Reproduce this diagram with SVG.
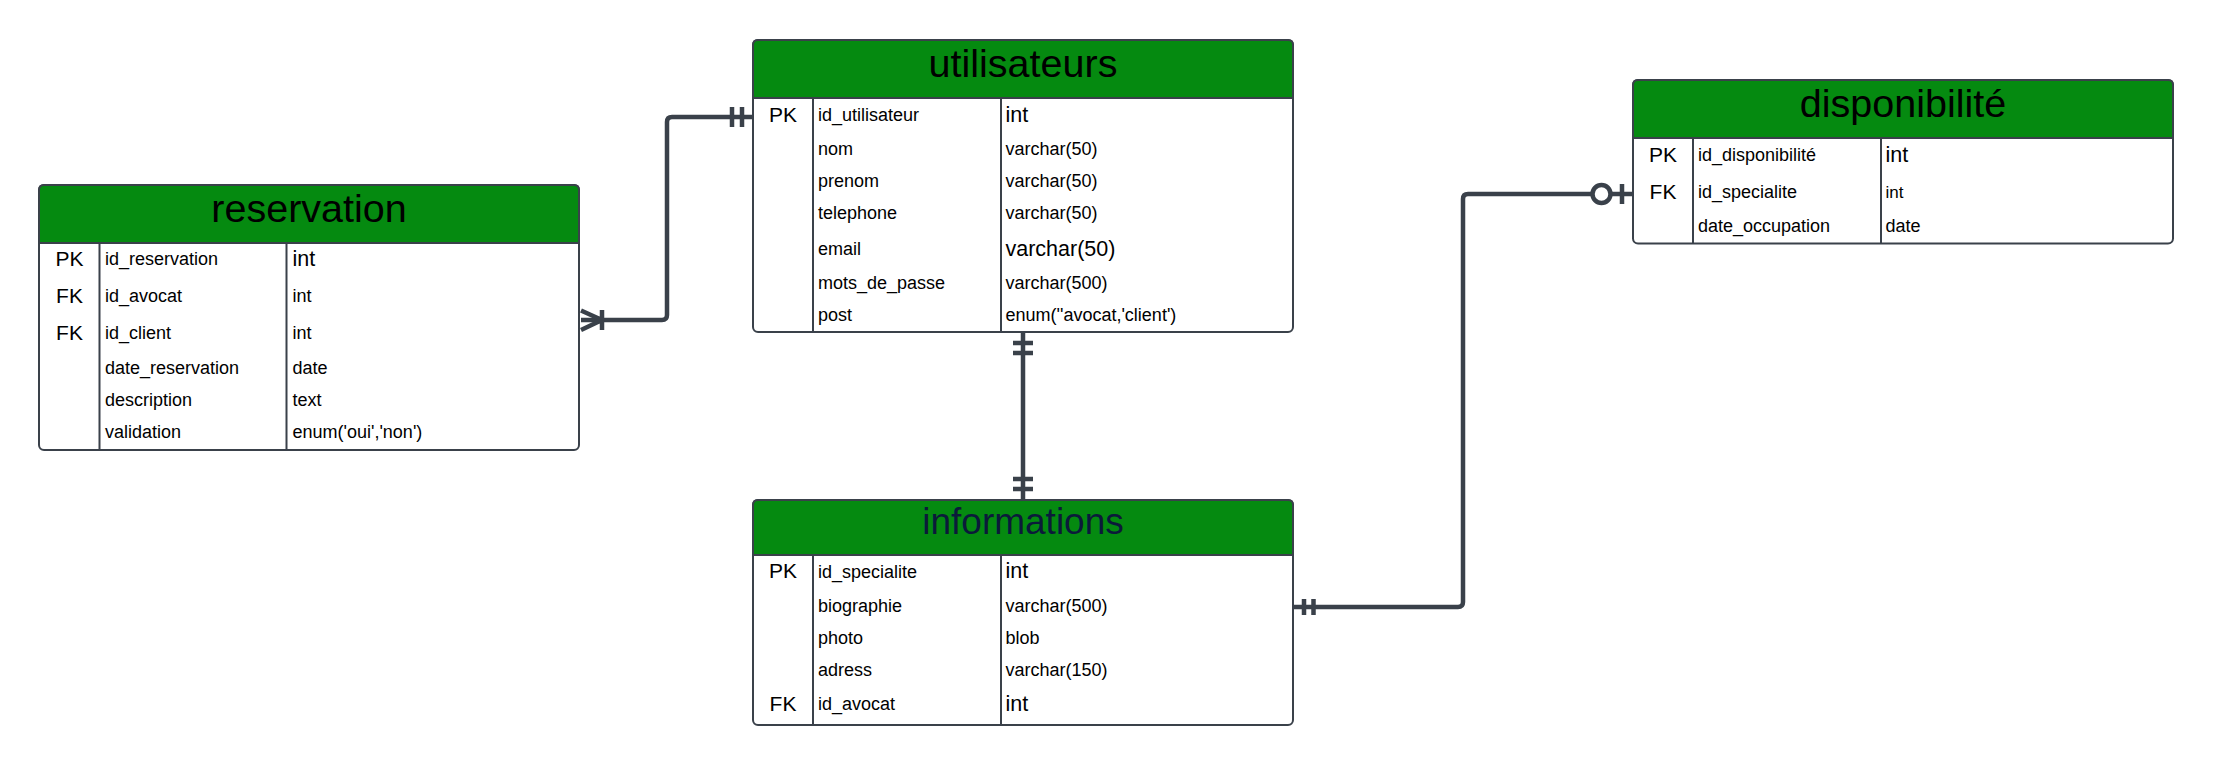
<svg xmlns="http://www.w3.org/2000/svg" width="2213" height="765" viewBox="0 0 2213 765">
<style>
.box{fill:#ffffff;stroke:#3a414a;stroke-width:2}
.hdr{fill:#058a10;stroke:#3a414a;stroke-width:2}
.ln{stroke:#3a414a;stroke-width:2;fill:none}
.title{font-family:"Liberation Sans",Arial,sans-serif;font-size:39.5px;fill:#000;text-anchor:middle}
.key{font-family:"Liberation Sans",Arial,sans-serif;font-size:21px;fill:#000;text-anchor:middle}
.f{font-family:"Liberation Sans",Arial,sans-serif;font-size:18px;fill:#000}
.big{font-family:"Liberation Sans",Arial,sans-serif;font-size:21.5px;fill:#000}
.c{stroke:#3a414a;stroke-width:4.5;fill:none;stroke-linecap:butt;stroke-linejoin:round}
</style>
<rect width="2213" height="765" fill="#ffffff"/>
<g id="connectors">
<path class="c" d="M 581 320 H 662 Q 667 320 667 315 V 122 Q 667 117 672 117 H 753"/>
<path class="c" d="M 581 310.5 L 602 320 L 581 330 M 602 310 V 330"/>
<path class="c" d="M 732 107 V 127 M 742 107 V 127"/>
<path class="c" d="M 1023 332 V 500"/>
<path class="c" d="M 1013 343 H 1033 M 1013 353 H 1033 M 1013 479 H 1033 M 1013 489 H 1033"/>
<path class="c" d="M 1293 607 H 1458 Q 1463 607 1463 602 V 199 Q 1463 194 1468 194 H 1633"/>
<path class="c" d="M 1304 599 V 615 M 1313.5 599 V 615 M 1622 184 V 204"/>
<circle cx="1601.5" cy="194" r="9" fill="#ffffff" stroke="#3a414a" stroke-width="4.5"/>
</g>
<g id="reservation">
<rect class="box" x="39" y="185" width="540" height="265" rx="5"/>
<path class="hdr" d="M 39 243 V 190 Q 39 185 44 185 H 574 Q 579 185 579 190 V 243 Z"/>
<path class="ln" d="M 99.5 243 V 450 M 286.5 243 V 450"/>
<text class="title" x="309" y="222">reservation</text>
<text class="key" x="69.5" y="265.5">PK</text>
<text class="f" x="105" y="265">id_reservation</text>
<text class="big" x="292.5" y="265.5">int</text>
<text class="key" x="69.5" y="303">FK</text>
<text class="f" x="105" y="302">id_avocat</text>
<text class="f" x="292.5" y="302">int</text>
<text class="key" x="69.5" y="340">FK</text>
<text class="f" x="105" y="339">id_client</text>
<text class="f" x="292.5" y="339">int</text>
<text class="f" x="105" y="373.5">date_reservation</text>
<text class="f" x="292.5" y="373.5">date</text>
<text class="f" x="105" y="405.5">description</text>
<text class="f" x="292.5" y="405.5">text</text>
<text class="f" x="105" y="437.5">validation</text>
<text class="f" x="292.5" y="437.5">enum('oui','non')</text>
</g>
<g id="utilisateurs">
<rect class="box" x="753" y="40" width="540" height="292" rx="5"/>
<path class="hdr" d="M 753 98 V 45 Q 753 40 758 40 H 1288 Q 1293 40 1293 45 V 98 Z"/>
<path class="ln" d="M 813 98 V 332 M 1001 98 V 332"/>
<text class="title" x="1023" y="77">utilisateurs</text>
<text class="key" x="783" y="121.5">PK</text>
<text class="f" x="818" y="120.5">id_utilisateur</text>
<text class="big" x="1005.5" y="121.5">int</text>
<text class="f" x="818" y="155">nom</text>
<text class="f" x="1005.5" y="155">varchar(50)</text>
<text class="f" x="818" y="187">prenom</text>
<text class="f" x="1005.5" y="187">varchar(50)</text>
<text class="f" x="818" y="219">telephone</text>
<text class="f" x="1005.5" y="219">varchar(50)</text>
<text class="f" x="818" y="254.5">email</text>
<text class="big" x="1005.5" y="255.5">varchar(50)</text>
<text class="f" x="818" y="288.5">mots_de_passe</text>
<text class="f" x="1005.5" y="288.5">varchar(500)</text>
<text class="f" x="818" y="320.5">post</text>
<text class="f" x="1005.5" y="320.5">enum(''avocat,'client')</text>
</g>
<g id="disponibilite">
<rect class="box" x="1633" y="80" width="540" height="163.5" rx="5"/>
<path class="hdr" d="M 1633 138 V 85 Q 1633 80 1638 80 H 2168 Q 2173 80 2173 85 V 138 Z"/>
<path class="ln" d="M 1693 138 V 243.5 M 1881 138 V 243.5"/>
<text class="title" x="1903" y="117">disponibilité</text>
<text class="key" x="1663" y="161.5">PK</text>
<text class="f" x="1698" y="160.5">id_disponibilité</text>
<text class="big" x="1885.5" y="161.5">int</text>
<text class="key" x="1663" y="198.5">FK</text>
<text class="f" x="1698" y="198">id_specialite</text>
<text class="f" x="1885.5" y="198" style="font-size:17px">int</text>
<text class="f" x="1698" y="232">date_occupation</text>
<text class="f" x="1885.5" y="232">date</text>
</g>
<g id="informations">
<rect class="box" x="753" y="500" width="540" height="225" rx="5"/>
<path class="hdr" d="M 753 555 V 505 Q 753 500 758 500 H 1288 Q 1293 500 1293 505 V 555 Z"/>
<path class="ln" d="M 813 555 V 725 M 1001 555 V 725"/>
<text class="title" x="1023" y="534" style="fill:#0b1a3a;font-size:37px">informations</text>
<text class="key" x="783" y="578">PK</text>
<text class="f" x="818" y="577.5">id_specialite</text>
<text class="big" x="1005.5" y="578">int</text>
<text class="f" x="818" y="612">biographie</text>
<text class="f" x="1005.5" y="612">varchar(500)</text>
<text class="f" x="818" y="643.5">photo</text>
<text class="f" x="1005.5" y="643.5">blob</text>
<text class="f" x="818" y="676">adress</text>
<text class="f" x="1005.5" y="676">varchar(150)</text>
<text class="key" x="783" y="710.5">FK</text>
<text class="f" x="818" y="710">id_avocat</text>
<text class="big" x="1005.5" y="710.5">int</text>
</g>
</svg>
